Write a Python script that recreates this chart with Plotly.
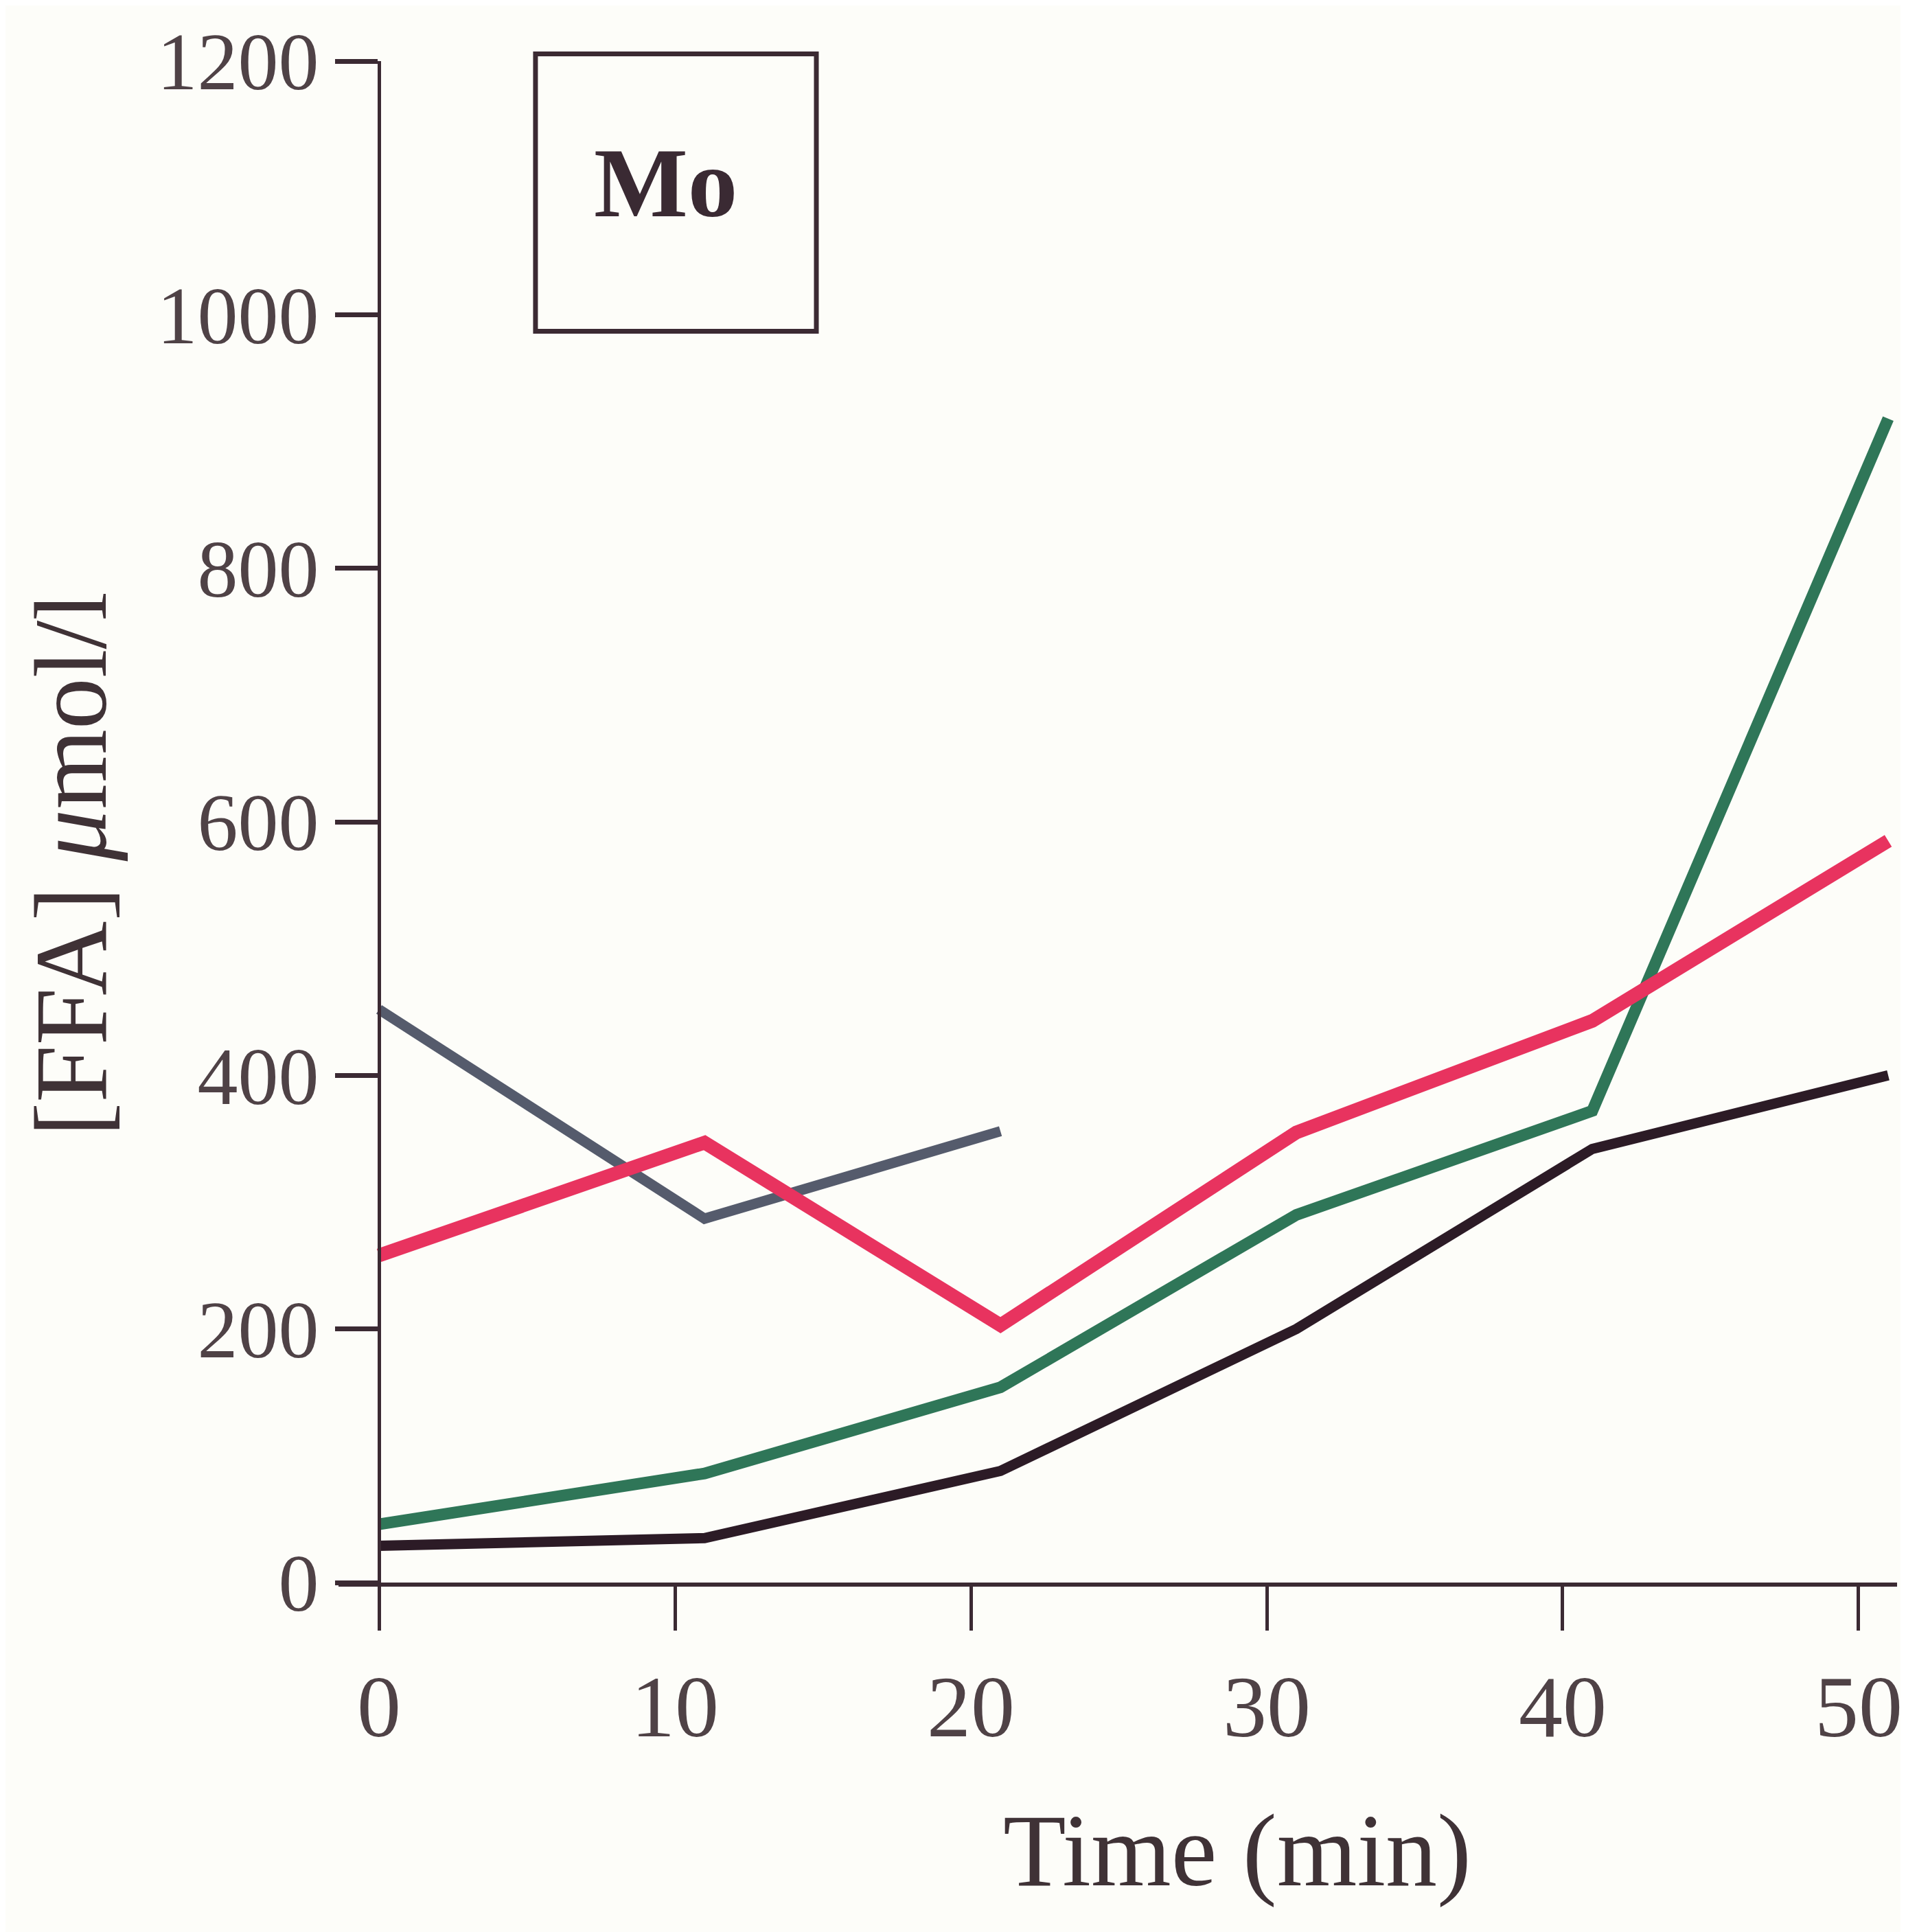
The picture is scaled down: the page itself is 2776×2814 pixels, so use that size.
import plotly.graph_objects as go

# ---- data ----
time_min = [0, 11, 21, 31, 41, 51]
gray_time = [0, 11, 21]
gray_ffa = [452, 287, 356]
red_ffa = [258, 347, 203, 355, 443, 585]
green_ffa = [46, 86, 154, 290, 372, 918]
black_ffa = [29, 35, 88, 200, 342, 400]

x_ticks = [0, 10, 20, 30, 40, 50]
y_ticks = [0, 200, 400, 600, 800, 1000, 1200]

AX = "#3b2a33"
LBL = "#4f4246"
FONT = "Liberation Serif"

fig = go.Figure()
fig.add_trace(go.Scatter(x=gray_time, y=gray_ffa, mode="lines",
                         line=dict(color="#555b6c", width=15)))
fig.add_trace(go.Scatter(x=time_min, y=black_ffa, mode="lines",
                         line=dict(color="#2c1b26", width=15)))
fig.add_trace(go.Scatter(x=time_min, y=green_ffa, mode="lines",
                         line=dict(color="#2f7658", width=17)))
fig.add_trace(go.Scatter(x=time_min, y=red_ffa, mode="lines",
                         line=dict(color="#e8335f", width=20)))

xmin, xmax = -1.37, 51.3
fig.update_layout(
    width=2776, height=2814,
    margin=dict(l=485, r=21, t=81, b=517),
    paper_bgcolor="#fdfdf9", plot_bgcolor="#fdfdf9",
    showlegend=False,
    font=dict(family=FONT, color=LBL),
    xaxis=dict(range=[xmin, xmax], tickvals=x_ticks, ticks="outside",
               ticklen=64, tickwidth=5, tickcolor=AX, showline=True,
               linecolor=AX, linewidth=6, showgrid=False, zeroline=False,
               tickfont=dict(size=128, color=LBL, family=FONT),
               ticklabelstandoff=0),
    yaxis=dict(range=[0, 1200], tickvals=y_ticks, ticks="outside",
               ticklen=62, tickwidth=7, tickcolor=AX, showline=True,
               linecolor=AX, linewidth=5, showgrid=False, zeroline=False,
               anchor="free", position=(0 - xmin) / (xmax - xmin),
               tickfont=dict(size=118, color=LBL, family=FONT),
               ticklabelstandoff=0),
)

fig.add_shape(type="rect", xref="paper", yref="paper",
              x0=0.1264, x1=0.3066, y0=0.8224, y1=1.0047,
              line=dict(color=AX, width=7))
fig.add_annotation(text="<b>Mo</b>", xref="paper", yref="paper",
                   x=0.210, y=0.920, showarrow=False,
                   xanchor="center", yanchor="middle",
                   font=dict(size=145, color="#3a2a33", family=FONT))
fig.add_annotation(text="Time (min)", xref="paper", yref="paper",
                   x=0.5767, y=-0.176, showarrow=False,
                   xanchor="center", yanchor="middle",
                   font=dict(size=150, color="#3f3236", family=FONT))
fig.add_annotation(text="[FFA] <i>μ</i>mol/l", xref="paper", yref="paper",
                   x=-0.172, y=0.472, showarrow=False, textangle=-90,
                   xanchor="center", yanchor="middle",
                   font=dict(size=150, color="#3f3236", family=FONT))

fig.write_html("out.html")
